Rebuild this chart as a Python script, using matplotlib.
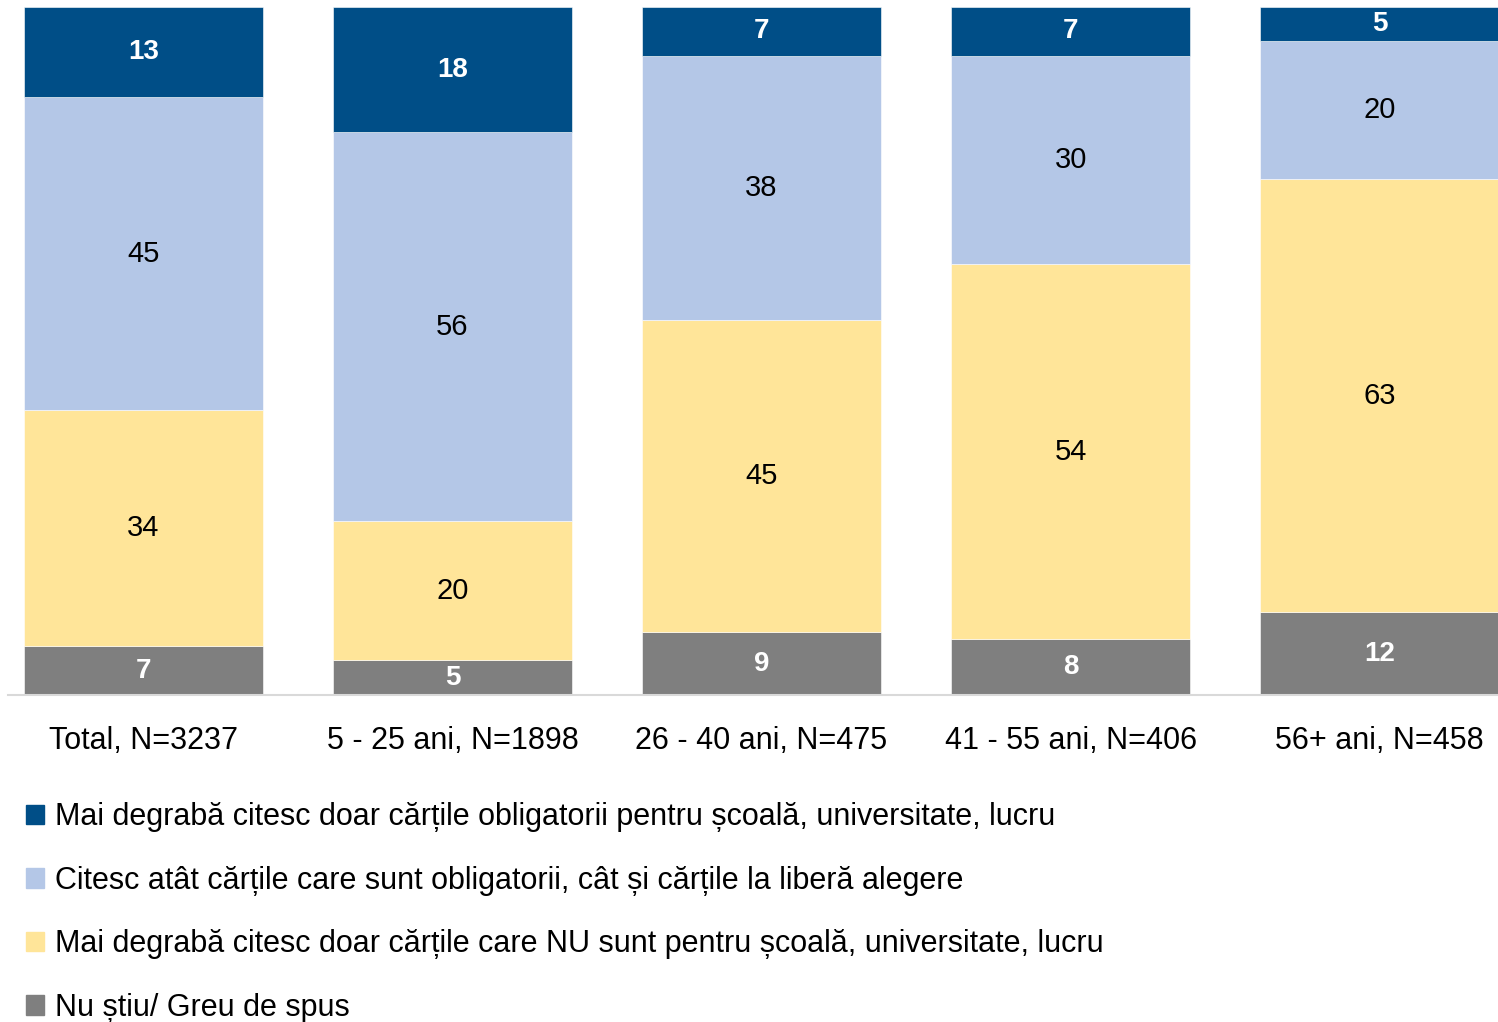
import matplotlib
matplotlib.use("Agg")
import matplotlib.pyplot as plt
import numpy as np
from matplotlib.patches import Patch

categories = ["Total, N=3237", "5 - 25 ani, N=1898", "26 - 40 ani, N=475",
              "41 - 55 ani, N=406", "56+ ani, N=458"]
series_names = [
    "Mai degrabă citesc doar cărțile obligatorii pentru școală, universitate, lucru",
    "Citesc atât cărțile care sunt obligatorii, cât și cărțile la liberă alegere",
    "Mai degrabă citesc doar cărțile care NU sunt pentru școală, universitate, lucru",
    "Nu știu/ Greu de spus",
]
nu_stiu = [7, 5, 9, 8, 12]
doar_nu_scoala = [34, 20, 45, 54, 63]
ambele = [45, 56, 38, 30, 20]
doar_obligatorii = [13, 18, 7, 7, 5]

colors = {"obl": "#004E87", "amb": "#B4C7E7", "nu": "#FFE599", "ns": "#7F7F7F"}

plt.rcParams['font.family'] = ['Liberation Sans', 'DejaVu Sans']

fig = plt.figure(figsize=(14.98, 10.22), dpi=100)
ax = fig.add_axes([8/1498, 1-695/1022, 1-8/1498, (695-7)/1022])

x = np.arange(len(categories))
stack = [(nu_stiu, colors["ns"], "white", "bold"),
         (doar_nu_scoala, colors["nu"], "black", "normal"),
         (ambele, colors["amb"], "black", "normal"),
         (doar_obligatorii, colors["obl"], "white", "bold")]
totals = np.sum([np.array(s[0]) for s in stack], axis=0)
bottom = np.zeros(len(categories))
w = 0.773
for vals, col, tcol, tw in stack:
    v = np.array(vals, dtype=float)
    h = 100 * v / totals
    ax.bar(x, h, w, bottom=bottom, color=col, edgecolor="white", linewidth=0.4)
    for xi, b, hh, raw in zip(x, bottom, h, vals):
        ax.text(xi, b + hh / 2, str(raw), ha="center", va="center",
                color=tcol, fontsize=21 if tw == "normal" else 20, fontweight=tw)
    bottom += h

ax.set_xlim(-0.438, 4.383)
ax.set_ylim(0, 100)
ax.set_yticks([])
ax.set_xticks(x)
ax.set_xticklabels(categories, fontsize=22)
ax.tick_params(axis="x", length=0, pad=22)
for s in ["top", "right", "left"]:
    ax.spines[s].set_visible(False)
ax.spines["bottom"].set_color("#D9D9D9")
ax.spines["bottom"].set_linewidth(1.5)

handles = [Patch(color=colors["obl"]), Patch(color=colors["amb"]),
           Patch(color=colors["nu"]), Patch(color=colors["ns"])]
fig.legend(handles, series_names, loc="upper left",
           bbox_to_anchor=(26/1498, 1-802/1022), frameon=False,
           fontsize=22, handlelength=0.6, handleheight=0.6, handletextpad=0.35,
           labelspacing=1.1, borderaxespad=0, borderpad=0)

fig.savefig("out.png", dpi=100)
